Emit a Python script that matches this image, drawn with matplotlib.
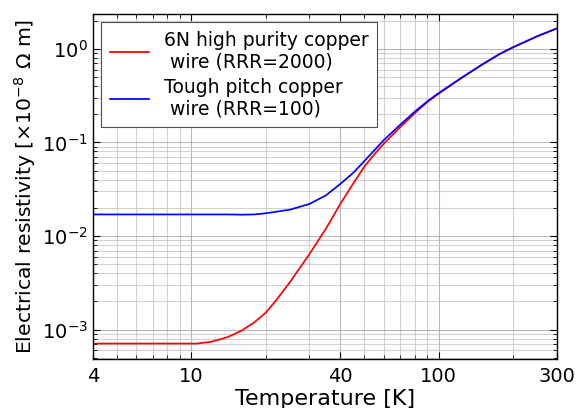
import numpy as np
import matplotlib
matplotlib.use("Agg")
import matplotlib.pyplot as plt
from matplotlib.ticker import FixedLocator, FixedFormatter, LogLocator, NullFormatter

# temperature [K] and resistivity [x1e-8 ohm m]
temp_6n = [4, 6, 8, 10, 10.5, 12, 14, 16, 18, 20, 22, 25, 30, 35, 40, 45, 50, 55, 60, 70, 80, 90,
           100, 125, 150, 175, 200, 250, 300]
rho_6n = [7.1e-4, 7.1e-4, 7.1e-4, 7.1e-4, 7.1e-4, 7.4e-4, 8.3e-4, 9.8e-4, 1.2e-3, 1.52e-3,
          2.05e-3, 3.2e-3, 6.4e-3, 1.2e-2, 2.2e-2, 0.036, 0.055, 0.075, 0.097, 0.146, 0.205, 0.27,
          0.332, 0.498, 0.68, 0.87, 1.04, 1.36, 1.65]

temp_tp = [4, 6, 8, 10, 12, 14, 16, 18, 20, 25, 30, 35, 40, 45, 50, 60, 70, 80, 90,
           100, 125, 150, 175, 200, 250, 300]
rho_tp = [0.0170, 0.0170, 0.0170, 0.0170, 0.0170, 0.0170, 0.0169, 0.0170, 0.0175, 0.0191,
          0.0220, 0.0272, 0.036, 0.047, 0.063, 0.106, 0.155, 0.213, 0.275,
          0.337, 0.50, 0.68, 0.87, 1.04, 1.36, 1.65]

labels = ["6N high purity copper\n wire (RRR=2000)", "Tough pitch copper\n wire (RRR=100)"]
xticks = [4, 10, 40, 100, 300]

fig = plt.figure(figsize=(5.77, 4.08), dpi=100)
ax = fig.add_axes([0.161, 0.120, 0.804, 0.846])

ax.plot(temp_6n, rho_6n, color="red", lw=1.25, label=labels[0])
ax.plot(temp_tp, rho_tp, color="blue", lw=1.25, label=labels[1])

ax.set_xscale("log")
ax.set_yscale("log")
ax.set_xlim(4, 300)
ax.set_ylim(4.85e-4, 2.36)

ax.xaxis.set_major_locator(FixedLocator(xticks))
ax.xaxis.set_major_formatter(FixedFormatter([str(t) for t in xticks]))
ax.xaxis.set_minor_locator(LogLocator(base=10, subs=np.arange(2, 10)))
ax.xaxis.set_minor_formatter(NullFormatter())

ax.grid(True, which="major", color="0.65", lw=0.8, alpha=0.8)
ax.grid(True, which="minor", color="0.75", lw=0.8, alpha=0.7)
ax.set_axisbelow(True)

ax.tick_params(which="both", direction="in", top=True, right=True, labelsize=14)
ax.tick_params(which="major", length=5)
ax.tick_params(which="minor", length=3)
ax.tick_params(axis="x", pad=6)

for s in ax.spines.values():
    s.set_linewidth(1.0)

ax.set_xlabel("Temperature [K]", fontsize=16, labelpad=2)
ax.set_ylabel(r"Electrical resistivity [$\times10^{-8}$ $\Omega$ m]", fontsize=14.7, labelpad=3)

leg = ax.legend(loc="upper left", fontsize=13.5, fancybox=False, edgecolor="0.3",
                framealpha=1.0, borderaxespad=0.45, labelspacing=0.33,
                handlelength=2.1, borderpad=0.45)
leg.get_frame().set_linewidth(0.8)

fig.savefig("out.png", dpi=100)
